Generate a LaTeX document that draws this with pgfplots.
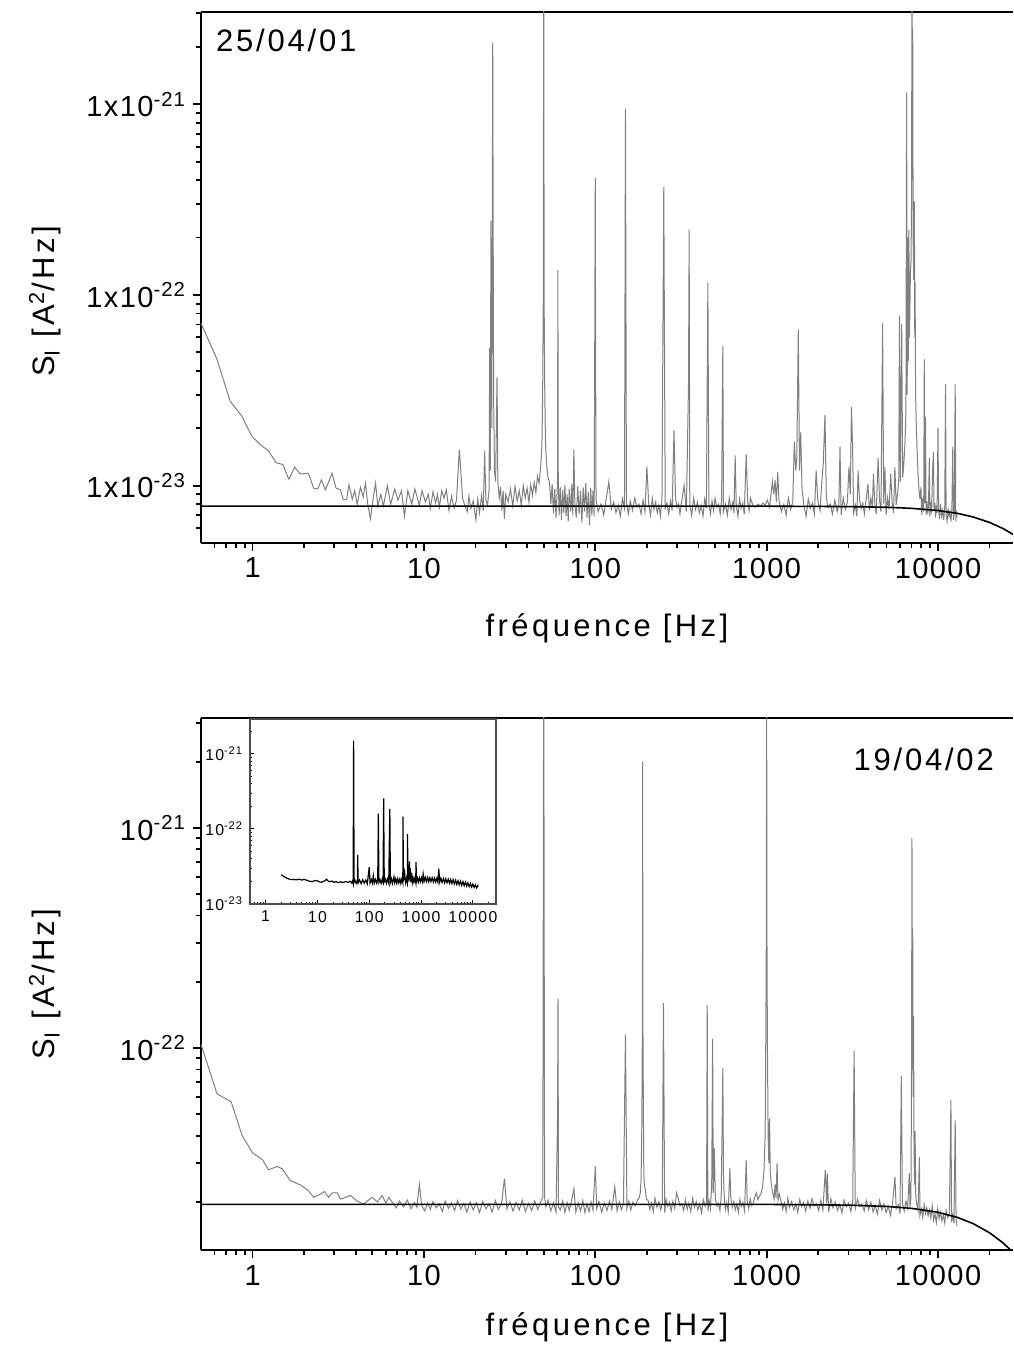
\documentclass[border=0pt]{standalone}
\usepackage{fontspec}
\setmainfont{Liberation Sans}
\newfontfamily\tickfnt{Liberation Sans}[LetterSpace=5]
\newfontfamily\labfnt{Liberation Sans}[LetterSpace=11]
\newfontfamily\datefnt{Liberation Sans}[LetterSpace=9]
\newfontfamily\insfnt{Liberation Sans}[LetterSpace=8]
\usepackage{pgfplots}
\usepackage{pgfplotstable}
\pgfplotsset{compat=1.18}

% values in units of 1e-24 A^2/Hz
\pgfplotstableread{
f s
0.5 71
0.62 46
0.74 27.7
0.864 23.2
0.99 18.2
1.1 16.5
1.24 15.2
1.37 13.2
1.5 12.9
1.63 10.8
1.76 12.5
1.9 11.5
2.12 11.6
2.27 9.7
2.4 9.6
2.52 10.7
2.66 9.5
2.91 11.6
3.07 9.7
3.26 9.5
3.38 8.45
3.54 8.45
3.65 10.1
3.82 8.5
3.94 9.4
4.08 8.0
4.26 9.8
4.42 8.7
4.56 10.3
4.7 8.0
4.87 6.7
5.07 8.7
5.22 10.3
5.38 7.8
5.6 9.0
5.8 7.8
6.12 10.0
6.4 8.0
6.75 9.6
7.05 8.4
7.4 9.4
7.7 6.9
8.05 9.4
8.5 8.0
8.85 9.6
9.4 7.9
9.75 9.4
10.2 8.2
10.6 9.0
10.9 7.6
11.3 9.3
11.7 8.1
12.0 9.0
12.3 7.7
12.7 9.4
13.1 8.6
13.5 9.5
14.0 7.4
14.5 8.8
15.0 7.6
15.5 8.4
16.1 15.5
16.8 8.6
17.3 7.9
17.9 7.3
18.3 8.8
18.8 7.6
19.4 8.3
20.1 6.6
20.6 8.5
21.1 7.2
21.7 8.9
22.2 7.4
22.6 15.2
23.0 8.4
23.5 7.9
24.0 9.5
24.2 53
24.4 12
24.6 245
24.9 20
25.2 2100
25.5 30
25.8 12
26.2 10.5
26.7 37
27.0 10.5
27.5 8.6
28.0 9.8
28.5 7.4
29.0 9.4
29.5 6.7
30.0 9.0
31 8.2
32 9.6
33 7.8
34 9.9
35 8.3
36 9.4
37 7.9
38 10.0
39 8.6
40 9.7
41 8.2
42 10.1
43 8.9
44 10.4
45 9.2
46 11.2
47 10.3
48 12.5
48.8 16
49.3 30
49.7 90
50 6000
50.3 90
50.7 32
51.2 17
52 13
53 11
54 10.5
55 8.0
56 10.2
57 7.2
58 9.6
59 6.8
60.2 10.5
60.5 135
60.8 11
61.5 7.0
62.5 9.8
63.5 6.6
64.5 9.5
65.5 7.2
66.5 10.1
67.5 6.9
68.5 9.0
69.5 6.5
70.5 9.6
72 7.3
73 10.2
74 7.0
75 15.5
76 8.0
77.5 6.8
79 9.9
80.5 7.1
82 9.4
83.5 6.4
85 9.8
86.5 7.3
88 10.3
89.5 6.8
91 9.2
92.5 6.2
94 9.7
95.5 7.0
97 9.4
98.5 6.9
100 410
100.4 61
101 8.4
104 7.3
108 8.0
112 7.0
116 8.6
120 10.5
124 7.5
128 8.2
132 7.2
136 7.9
140 6.9
144 8.5
148 7.6
150 950
152 8.1
156 7.1
160 8.3
165 7.4
170 8.6
175 7.7
180 8.0
185 7.1
190 8.4
195 7.3
200 12.6
205 8.0
210 7.0
215 8.6
220 7.5
225 8.2
230 7.2
235 7.9
240 6.9
245 8.5
251 370
256 7.6
262 8.1
268 7.1
275 8.3
281 7.4
288 19.5
294 8.6
300 7.7
306 8.0
312 7.1
320 8.4
330 10
340 7.3
350 34
353 220
356 8.0
365 7.0
375 8.6
385 7.5
395 8.2
405 7.2
415 7.9
425 6.9
435 8.5
445 7.6
454 116
460 8.1
470 7.1
480 8.3
490 7.4
500 8.6
512 7.7
524 8.0
536 7.1
546 8.4
555 54
560 7.3
575 8.0
590 7.0
605 8.6
620 7.5
635 8.2
645 7.2
655 14.4
665 7.9
680 6.9
695 8.5
710 7.6
725 8.1
740 7.1
760 14.6
775 8.3
790 7.4
805 8.6
830 7.9
860 7.7
890 8.0
920 7.8
950 8.1
980 7.9
1010 8.4
1040 7.7
1080 10.5
1100 9.0
1120 10.7
1140 8.2
1160 11.8
1180 8.4
1220 7.3
1260 8.0
1300 7.0
1340 8.6
1380 7.5
1420 8.2
1450 17
1480 12
1500 14
1530 66
1555 12
1580 19
1610 9.5
1650 7.9
1700 6.9
1750 8.5
1800 7.6
1850 8.1
1900 7.1
1945 12
1990 8.3
2050 7.4
2100 10.5
2140 13
2190 23.5
2230 8.6
2280 7.7
2350 8.0
2420 7.1
2500 8.4
2580 7.3
2640 8.0
2680 16
2720 7.0
2800 8.6
2880 7.5
2960 8.2
3020 12.5
3080 9.0
3125 25.8
3170 17
3220 7.2
3300 7.9
3360 6.9
3420 12
3480 8.5
3560 7.6
3640 8.1
3720 7.1
3800 8.3
3900 10.2
3980 7.4
4060 8.6
4140 7.7
4200 11.5
4280 8.0
4360 7.1
4470 14
4560 8.4
4650 7.3
4750 71
4820 8.0
4900 12.5
4980 7.0
5080 8.6
5180 7.5
5300 11.5
5400 8.2
5500 7.2
5600 12.5
5700 7.9
5800 9.0
5900 10.5
5960 78
6030 10.5
6140 70
6220 11
6320 13
6420 17
6500 24
6560 1150
6610 30
6660 200
6710 45
6760 220
6820 60
6900 130
6960 150
7010 300
7050 6000
7090 400
7120 2500
7160 200
7220 120
7280 310
7320 60
7350 117
7400 30
7480 20
7560 15
7650 11.5
7750 9.5
7850 8.5
7950 9.8
8050 7.0
8150 8.6
8250 7.3
8320 46
8370 8.1
8450 23
8520 7.0
8620 8.3
8720 7.1
8800 7.9
8900 14
8980 6.9
9080 8.2
9180 7.2
9300 12
9400 15
9480 7.5
9580 8.1
9680 6.8
9780 7.9
9880 7.2
10000 20
10080 7.6
10200 6.7
10350 8.0
10500 6.9
10650 7.4
10800 6.6
10950 7.8
11070 34
11150 7.0
11300 6.5
11450 7.6
11600 6.9
11750 7.3
11900 6.5
12050 7.5
12200 16
12300 6.6
12450 7.2
12600 34
12700 6.5
12800 7.4
12900 6.8
}\topdata

\pgfplotstableread{
f s
0.5 104
0.62 62
0.72 58
0.75 57
0.87 40
1.0 33.4
1.14 31.2
1.24 28.0
1.39 29.0
1.49 28.3
1.66 25.0
1.9 23.9
2.12 22.5
2.27 21.0
2.43 21.5
2.63 22.3
2.78 21.0
2.91 22.0
3.12 22.0
3.26 20.6
3.5 21.0
3.73 21.4
4.07 20.2
4.44 19.6
4.75 20.4
5.0 21.0
5.34 20.0
5.7 21.4
6.0 19.8
6.25 21.0
6.6 19.7
6.9 18.8
7.2 20.2
7.6 19.0
8.0 20.4
8.4 18.6
8.8 19.9
9.1 18.9
9.4 24
9.7 19.3
10.1 18.2
10.5 19.8
10.9 18.5
11.3 20.1
11.8 18.8
12.3 19.6
12.8 18.1
13.3 20.2
13.9 18.7
14.5 19.8
15.1 18.3
15.7 20.3
16.4 18.6
17.1 19.7
17.8 18.0
18.6 20.0
19.4 18.4
20.2 19.9
21.1 17.9
22.0 20.1
23.0 18.6
24.0 19.6
25.0 18.0
26.1 20.3
27.2 18.5
28.4 19.8
29.5 25.5
30.5 18.6
31.8 20.0
33.1 18.2
34.5 19.9
36.0 18.4
37.5 20.4
39.1 18.1
40.8 19.7
42.5 18.3
44.3 20.2
46.2 18.5
48.1 20.1
49.4 21
50 8000
50.6 21
51.5 19.0
53 20.4
55 18.2
57 19.8
59 18.0
60.2 48
60.6 168
61.0 19
62.5 18.4
64.5 20.2
66.5 17.9
68.5 19.9
70.5 18.3
72.5 20.1
75 23
77 18.0
79.5 19.8
82 18.2
84.5 20.3
87 17.9
89.5 19.6
92 18.1
94.5 20.0
97 18.4
100 29
102 18.6
105 20.1
109 18.0
113 19.8
117 18.3
121 20.2
125 18.5
130 23.5
134 18.2
138 20.0
142 18.4
146 19.7
150 115
153 18.7
157 20.2
161 18.4
166 20.0
171 19.2
176 20.4
180 20.8
183 22
185 25
187 45
188.5 150
189 2000
189.5 150
191 48
192 26.5
194 23.5
196 22.8
199 20.5
203 20.4
208 18.5
213 19.8
218 18.1
223 20.8
229 18.9
235 20.1
241 18.4
246 19.6
250 160
254 17.9
259 20.5
265 19.1
271 19.9
277 18.2
284 20.2
291 18.7
298 22
305 20.7
312 19.2
320 19.7
328 18.3
336 20.4
344 18.5
352 19.8
361 18.1
370 20.8
379 18.9
388 20.1
397 18.4
407 19.6
417 17.9
427 20.5
438 19.1
446 19.9
450 157
454 18.2
462 20.2
470 18.7
478 24
484 110
488 22
495 35
502 20.7
512 19.2
522 19.7
534 18.3
543 21
550 45
555 81
560 26
567 20.4
575 18.5
585 19.8
597 18.1
610 28.5
618 20.8
630 18.9
643 20.1
656 18.4
670 19.6
684 17.9
698 20.5
712 19.1
727 19.9
743 18.2
760 31
770 20.2
786 18.7
802 20.7
818 19.2
835 19.7
852 21
870 22
890 20.5
910 21.3
930 22
950 24
965 28
980 40
990 130
997 400
1000 8000
1003 400
1010 110
1020 40
1030 30
1040 48
1050 27
1065 24
1085 22
1105 20.6
1120 24
1135 20.8
1150 30
1165 20.4
1185 21.7
1210 20.4
1240 18.5
1270 19.8
1300 18.1
1330 20.8
1360 18.9
1400 20.1
1440 18.4
1480 19.6
1520 17.9
1560 20.5
1600 19.1
1640 19.9
1690 18.2
1740 20.2
1790 18.7
1840 20.7
1890 19.2
1950 19.7
2010 18.3
2070 20.3
2130 18.4
2200 28
2240 19.7
2260 27
2300 18.0
2370 20.7
2440 18.8
2510 20.0
2590 18.3
2670 19.5
2750 17.8
2830 20.4
2920 19.0
3010 19.8
3100 18.1
3180 20.1
3240 97
3290 18.6
3390 20.6
3500 19.1
3600 19.6
3710 18.2
3820 20.3
3940 18.4
4060 19.9
4180 18.0
4300 19.3
4430 17.6
4560 20.3
4700 18.4
4840 19.6
4980 17.9
5130 19.1
5280 17.4
5440 20.0
5610 26
5700 18.6
5880 19.4
6000 17.7
6110 75
6200 19.7
6350 18.2
6500 20.2
6650 18.7
6800 27
6870 19
6950 21
7000 60
7050 900
7090 80
7120 350
7160 60
7200 140
7250 32
7300 24
7350 42
7420 21
7520 19.5
7650 18.3
7790 32
7850 17.4
8000 18.6
8150 17.0
8300 19.5
8450 17.7
8600 18.8
8760 17.3
8920 18.4
9080 16.9
9250 19.2
9420 16.5
9600 17.7
9780 16.1
9960 18.6
10150 16.8
10350 17.9
10550 16.4
10750 17.5
10950 16.0
11150 18.3
11400 17.0
11650 17.7
11900 58
12000 16.2
12200 17.4
12400 16.0
12600 47
12750 16.7
12900 15.6
}\botdata

\pgfplotstableread{
f s
2.0 24.5
2.3 23.0
2.6 22.0
3.0 21.2
3.5 21.2
4.0 21.0
4.5 21.4
5.0 20.8
5.5 21.3
6.0 20.9
7.0 20.1
8.0 19.8
9.0 20.6
10 20.3
11 19.7
12 19.5
13 20.0
14 20.4
15 21.4
16 20.3
17 19.8
19 20.2
21 19.4
23 19.9
25 19.2
28 19.8
31 19.3
35 19.9
39 19.4
43 20.1
46 19.0
48 20.5
49 19.2
50 1500
51 19.5
53 20.8
56 18.8
59 20.6
60 45
61 19.0
65 20.9
70 18.7
75 21.0
80 18.9
86 20.8
92 18.6
100 31
104 19.0
110 21.2
116 18.8
120 24
126 19.1
133 21.3
140 18.9
146 20.9
150 160
154 19.3
162 21.1
170 18.8
178 21.3
185 19.5
190 255
195 19.8
205 21.4
215 18.9
226 21.5
238 19.0
250 185
256 19.4
268 21.6
280 18.8
292 21.4
300 23
310 19.2
325 21.6
340 18.9
356 21.7
372 19.1
390 21.5
408 18.8
428 21.8
445 19.3
450 145
455 20
470 29
480 28
490 21.6
505 19.1
525 22.0
545 19.4
550 86
556 20
575 21.9
600 37
610 20
620 30
640 19.5
660 26
680 19.3
705 22.1
730 19.6
760 22.0
790 19.4
800 36
820 20
850 22.2
890 19.6
930 22.3
975 19.8
1020 22.4
1070 19.9
1100 25
1150 20.1
1210 22.6
1270 19.9
1340 22.5
1410 19.8
1480 22.4
1560 19.9
1640 22.3
1730 19.7
1820 22.2
1920 19.6
2020 22.0
2120 19.5
2200 29.5
2300 19.6
2420 21.9
2550 19.4
2700 21.8
2850 19.2
3000 21.6
3170 19.1
3350 21.4
3540 18.9
3740 21.2
3950 18.7
4170 21.0
4400 18.5
4650 20.7
4900 18.2
5180 20.4
5470 18.0
5780 20.1
6100 17.7
6450 19.8
6810 17.5
7200 19.5
7600 17.3
8030 19.1
8480 17.0
8960 18.7
9460 16.8
10000 18.4
10560 16.6
11150 18.0
11780 16.4
12450 17.5
12500 16.8
}\insdata

\definecolor{datagray}{RGB}{128,128,128}

\begin{document}
\begin{tikzpicture}
\useasboundingbox (0,0) rectangle (506.5pt,675pt);
% ---------- top panel ----------
\begin{axis}[
  at={(100.5pt,403.5pt)}, anchor=south west,
  scale only axis, width=406pt, height=265.5pt,
  xmode=log, ymode=log,
  xmin=0.5, xmax=27400, ymin=5, ymax=3050,
  axis x line=box, axis y line=left,
  axis line style={line width=1.2pt,-},
  xtick pos=left, ytick pos=left,
  tick align=outside,
  major tick length=4pt, minor tick length=2.5pt,
  every tick/.style={black, line width=0.9pt},
  xtick={1,10,100,1000,10000},
  xticklabels={1,10,100,1000,10000},
  minor xtick={0.6,0.7,0.8,0.9,2,3,4,5,6,7,8,9,20,30,40,50,60,70,80,90,200,300,400,500,600,700,800,900,2000,3000,4000,5000,6000,7000,8000,9000,20000},
  ytick={10,100,1000},
  yticklabels={1x10\textsuperscript{-23},1x10\textsuperscript{-22},1x10\textsuperscript{-21}},
  minor ytick={6,7,8,9,20,30,40,50,60,70,80,90,200,300,400,500,600,700,800,900,2000,3000},
  tick label style={font=\tickfnt\fontsize{14.5}{17}\selectfont},
  xlabel={fréquence [Hz]},
  ylabel={S\textsubscript{I} [A\textsuperscript{2}/Hz]},
  label style={font=\labfnt\fontsize{15.5}{18}\selectfont},
  xlabel style={at={(axis description cs:0.5,-0.16)}, anchor=center},
  ylabel style={at={(axis description cs:-0.192,0.455)}, rotate=0, anchor=center},
]
\addplot[datagray, line width=0.5pt] table[x=f,y=s]{\topdata};
\addplot[black, line width=0.8pt] coordinates {(0.5,7.8) (1000,7.8) (2000,7.78) (3000,7.76) (5000,7.70) (7000,7.60) (10000,7.40) (13000,7.15) (16000,6.85) (20000,6.41) (24000,5.95) (27400,5.55)};
\node[font=\datefnt\fontsize{15.5}{18}\selectfont, anchor=center] at (rel axis cs:0.105,0.947) {25/04/01};
\end{axis}
% ---------- bottom panel ----------
\begin{axis}[
  at={(100.5pt,50pt)}, anchor=south west,
  scale only axis, width=406pt, height=266pt,
  xmode=log, ymode=log,
  xmin=0.5, xmax=27400, ymin=12.1, ymax=3160,
  axis x line=box, axis y line=left,
  axis line style={line width=1.2pt,-},
  xtick pos=left, ytick pos=left,
  tick align=outside,
  major tick length=4pt, minor tick length=2.5pt,
  every tick/.style={black, line width=0.9pt},
  xtick={1,10,100,1000,10000},
  xticklabels={1,10,100,1000,10000},
  minor xtick={0.6,0.7,0.8,0.9,2,3,4,5,6,7,8,9,20,30,40,50,60,70,80,90,200,300,400,500,600,700,800,900,2000,3000,4000,5000,6000,7000,8000,9000,20000},
  ytick={100,1000},
  yticklabels={10\textsuperscript{-22},10\textsuperscript{-21}},
  minor ytick={20,30,40,50,60,70,80,90,200,300,400,500,600,700,800,900,2000,3000},
  tick label style={font=\tickfnt\fontsize{14.5}{17}\selectfont},
  xlabel={fréquence [Hz]},
  ylabel={S\textsubscript{I} [A\textsuperscript{2}/Hz]},
  label style={font=\labfnt\fontsize{15.5}{18}\selectfont},
  xlabel style={at={(axis description cs:0.5,-0.145)}, anchor=center},
  ylabel style={at={(axis description cs:-0.192,0.5)}, rotate=0, anchor=center},
]
\addplot[datagray, line width=0.5pt] table[x=f,y=s]{\botdata};
\addplot[black, line width=0.8pt] coordinates {(0.5,19.5) (1000,19.5) (3000,19.35) (5000,19.09) (7000,18.71) (10000,17.95) (13000,17.01) (16000,15.96) (20000,14.49) (24000,13.02) (27400,11.82)};
\node[font=\datefnt\fontsize{15.5}{18}\selectfont, anchor=center] at (rel axis cs:0.890,0.923) {19/04/02};
\end{axis}
% ---------- inset ----------
\begin{axis}[
  at={(125pt,223pt)}, anchor=south west,
  scale only axis, width=123pt, height=92.5pt,
  xmode=log, ymode=log,
  xmin=0.5, xmax=28000, ymin=10, ymax=2900,
  axis background/.style={fill=white},
  axis line style={line width=0.6pt, black!70},
  tick align=inside,
  major tick length=2pt, minor tick length=1pt,
  every tick/.style={black, line width=0.4pt},
  xtick pos=left, ytick pos=left,
  xtick={1,10,100,1000,10000},
  xticklabels={1,10,100,1000,10000},
  minor xtick={0.6,0.7,0.8,0.9,2,3,4,5,6,7,8,9,20,30,40,50,60,70,80,90,200,300,400,500,600,700,800,900,2000,3000,4000,5000,6000,7000,8000,9000,20000},
  ytick={10,100,1000},
  yticklabels={10\textsuperscript{-23},10\textsuperscript{-22},10\textsuperscript{-21}},
  minor ytick={20,30,40,50,60,70,80,90,200,300,400,500,600,700,800,900,2000},
  tick label style={font=\insfnt\fontsize{7.9}{9}\selectfont},
]
\addplot[black, line width=0.6pt] table[x=f,y=s]{\insdata};
\end{axis}
\end{tikzpicture}
\end{document}
